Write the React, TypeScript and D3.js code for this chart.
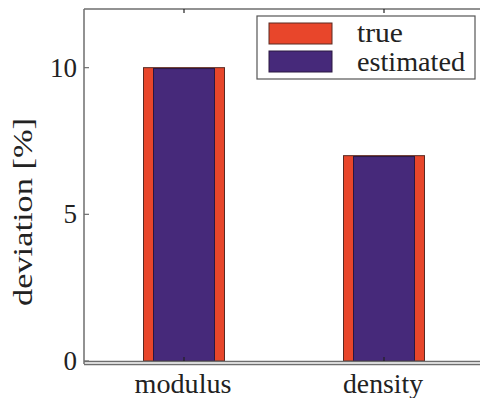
import React from "react";
import * as d3 from "d3";

const categories = ["modulus", "density"];
const trueValues = [10, 7];
const estimatedValues = [9.97, 6.97];
const yTicks = [0, 5, 10];
const seriesNames = ["true", "estimated"];

const W = 480;
const H = 398;
const FONT = "Liberation Serif";

export default function App() {
  const x = d3.scaleLinear().domain([0.5, 2.5]).range([84, 484]);
  const y = d3.scaleLinear().domain([0, 12]).range([361, 9]);
  const redW = x(1.405) - x(1);
  const purW = x(1.305) - x(1);
  const red = "#E8462B";
  const purple = "#46297A";
  const axisCol = "#6e6e6e";
  const xLabelLens = [97, 80];
  const ts = { fontFamily: FONT, fontSize: "27px", fill: "#222" } as React.CSSProperties;

  return (
    <svg width={W} height={H} style={{ position: "absolute", left: 0, top: 0, background: "#fff" }}>
      <rect x={0} y={0} width={W} height={H} fill="#fff" />
      {categories.map((c, i) => (
        <g key={c}>
          <rect
            x={x(i + 1) - redW / 2}
            y={y(trueValues[i])}
            width={redW}
            height={y(0) - y(trueValues[i])}
            fill={red}
            stroke="#5a2a22"
            strokeWidth={1}
          />
          <rect
            x={x(i + 1) - purW / 2}
            y={y(estimatedValues[i])}
            width={purW}
            height={y(0) - y(estimatedValues[i])}
            fill={purple}
            stroke="#2a1840"
            strokeWidth={1}
          />
        </g>
      ))}
      <line x1={x(0.5)} x2={x(0.5)} y1={y(12)} y2={y(0) + 3} stroke={axisCol} strokeWidth={1.5} />
      <line x1={x(0.5)} x2={W + 10} y1={y(12)} y2={y(12)} stroke={axisCol} strokeWidth={1.5} />
      <line x1={x(0.5)} x2={W + 10} y1={y(0) + 0.5} y2={y(0) + 0.5} stroke={axisCol} strokeWidth={1.5} />
      <line x1={x(0.5)} x2={W + 10} y1={y(0) + 3.5} y2={y(0) + 3.5} stroke={axisCol} strokeWidth={1.5} />
      {yTicks.map((t) => (
        <g key={t}>
          <line x1={x(0.5)} x2={x(0.5) + 5} y1={y(t)} y2={y(t)} stroke={axisCol} strokeWidth={1.2} />
          <text x={77} y={y(t) + 9} textAnchor="end" style={ts}>
            {t}
          </text>
        </g>
      ))}
      {categories.map((c, i) => (
        <g key={c}>
          <line x1={x(i + 1)} x2={x(i + 1)} y1={y(0)} y2={y(0) - 4} stroke="#222" strokeWidth={1.2} />
          <line x1={x(i + 1)} x2={x(i + 1)} y1={y(12)} y2={y(12) + 4} stroke="#222" strokeWidth={1.2} />
          <text
            x={x(i + 1) - 1}
            y={393}
            textAnchor="middle"
            style={ts}
            textLength={xLabelLens[i]}
            lengthAdjust="spacingAndGlyphs"
          >
            {c}
          </text>
        </g>
      ))}
      <text
        transform={`translate(32, 212) rotate(-90)`}
        textAnchor="middle"
        style={ts}
        textLength={188}
        lengthAdjust="spacingAndGlyphs"
      >
        deviation [%]
      </text>
      <rect x={257} y={16} width={218} height={63} fill="#fff" stroke="#555" strokeWidth={1.2} />
      <rect x={269} y={23} width={63} height={21} fill={red} stroke="#5a2a22" strokeWidth={1} />
      <rect x={269} y={51} width={63} height={21} fill={purple} stroke="#2a1840" strokeWidth={1} />
      <text x={357} y={42} style={ts} textLength={46} lengthAdjust="spacingAndGlyphs">
        {seriesNames[0]}
      </text>
      <text x={357} y={71} style={ts} textLength={108} lengthAdjust="spacingAndGlyphs">
        {seriesNames[1]}
      </text>
    </svg>
  );
}
